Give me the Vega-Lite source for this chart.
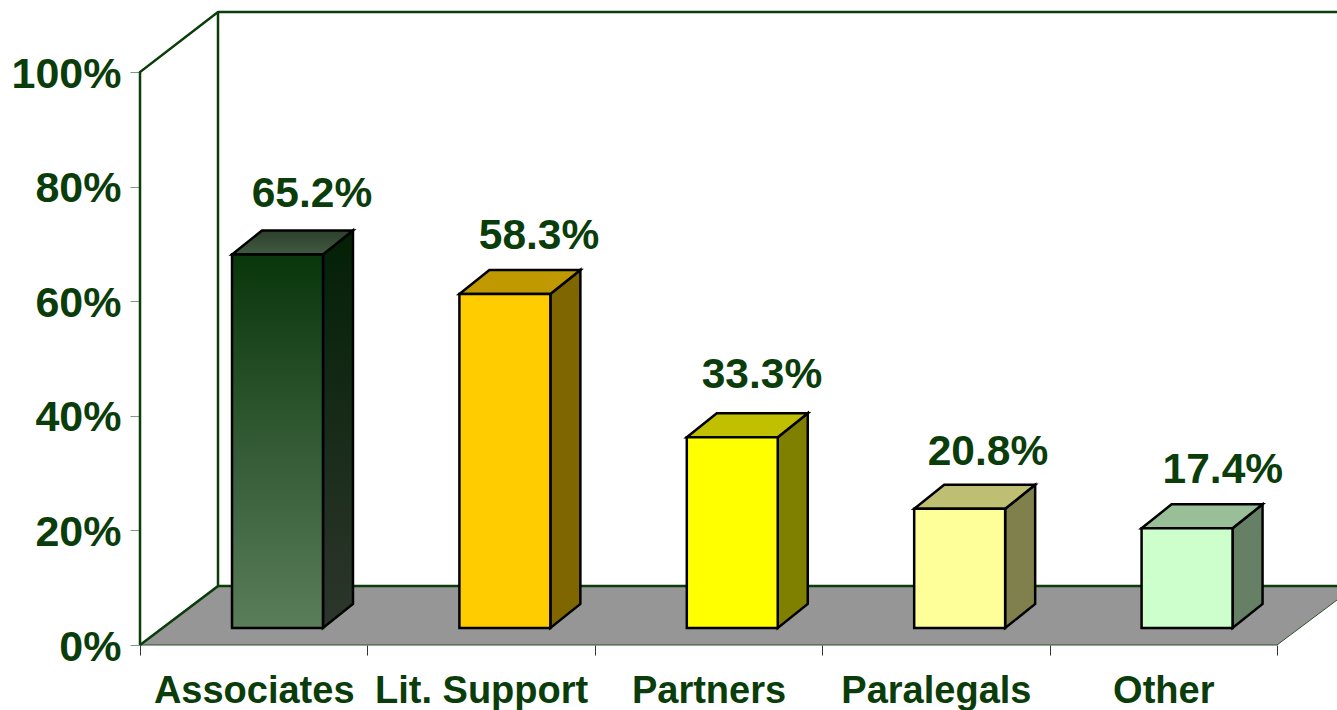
{"$schema":"https://vega.github.io/schema/vega-lite/v6.json","width":1337,"height":710,"autosize":{"type":"none"},"padding":0,"background":"white","config":{"view":{"stroke":null}},
"datasets":{"bars":[{"category":"Associates","value":65.2},{"category":"Lit. Support","value":58.3},{"category":"Partners","value":33.3},{"category":"Paralegals","value":20.8},{"category":"Other","value":17.4}],
"floor":[{"u":0,"a":0,"b":0},{"u":0.343,"a":10.3,"b":0},{"u":5,"a":10.3,"b":0},{"u":5.264,"a":10.3,"b":7.85}],
"frame":[{"s":"wall","k":1,"u":0,"v":0},{"s":"wall","k":2,"u":0,"v":100},{"s":"wall","k":3,"u":0.343,"v":110.47},{"s":"wall","k":4,"u":5.264,"v":110.47},{"s":"back","k":1,"u":0.343,"v":110.47},{"s":"back","k":2,"u":0.343,"v":10.3},{"s":"back","k":3,"u":0,"v":0},{"s":"rear","k":1,"u":0.343,"v":10.3},{"s":"rear","k":2,"u":5.264,"v":10.3}],
"edge":[{"s":"front","k":1,"u":0,"v":0},{"s":"front","k":2,"u":5,"v":0},{"s":"front","k":3,"u":5.264,"v":7.85}]},
"data":{"name":"bars"},
"transform":[{"window":[{"op":"row_number","as":"n"}]},{"calculate":"datum.n-1","as":"i"},{"calculate":"datum.i+0.4046","as":"xf0"},{"calculate":"datum.xf0+0.4","as":"xf1"},{"calculate":"datum.value+2.967","as":"yf"},{"calculate":"datum.yf+4.19","as":"yb"},{"calculate":"datum.xf1+0.132","as":"xs"},{"calculate":"format(datum.value,'.1f')+'%'","as":"label"},{"calculate":"datum.i+[0.7563,0.7546,0.735,0.729,0.762][datum.i]","as":"lx"},{"calculate":"datum.value+[11.3,10.9,11.5,10.7,10.8][datum.i]","as":"ly"}],
"layer":[
{"data":{"name":"floor"},"mark":{"type":"area","fill":"#969696","orient":"vertical"},"encoding":{"x":{"field":"u","type":"quantitative","scale":{"domain":[-0.6157,5.264],"nice":false,"zero":false},"axis":{"values":[0,1,2,3,4,5],"offset":-65,"title":null,"grid":false,"domain":false,"tickSize":10,"tickColor":"#333333","labelExpr":"['Associates','Lit. Support','Partners','Paralegals','Other',''][datum.value]","labelOffset":113.7,"labelPadding":17,"labelLimit":400,"labelFont":"Liberation Sans","labelFontSize":38,"labelFontWeight":"bold","labelColor":"#0b3d0b","labelOverlap":false,"labelFlush":false,"labelBound":false}},"y":{"field":"a","type":"quantitative","scale":{"domain":[-11.34,112.57],"nice":false,"zero":false},"axis":{"values":[0,20,40,60,80,100],"offset":-140,"title":null,"grid":false,"domain":false,"tickSize":10,"tickColor":"#7f9b7f","labelExpr":"datum.value+'%'","labelPadding":9,"labelOffset":2,"labelLimit":300,"labelFont":"Liberation Sans","labelFontSize":43,"labelFontWeight":"bold","labelColor":"#0b3d0b","labelBound":false}},"y2":{"field":"b"}}},
{"data":{"name":"edge"},"mark":{"type":"line","stroke":"#2f4f2f","strokeWidth":1},"encoding":{"x":{"field":"u","type":"quantitative"},"y":{"field":"v","type":"quantitative"},"order":{"field":"k"}}},
{"data":{"name":"frame"},"mark":{"type":"line","stroke":"#0b3d0b","strokeWidth":2.5},"encoding":{"x":{"field":"u","type":"quantitative"},"y":{"field":"v","type":"quantitative"},"detail":{"field":"s"},"order":{"field":"k"}}},
{"transform":[{"filter":"datum.category!='Associates'"},{"fold":["xf1","xs"],"as":["edgeName","sx"]},{"calculate":"datum.edgeName=='xf1'?datum.yf:datum.yb","as":"sTop"},{"calculate":"datum.edgeName=='xf1'?2.967:7.157","as":"sBot"}],"mark":{"type":"area","stroke":"black","strokeWidth":2.5,"strokeJoin":"miter","orient":"vertical"},"encoding":{"x":{"field":"sx","type":"quantitative"},"y":{"field":"sTop","type":"quantitative"},"y2":{"field":"sBot"},"detail":{"field":"category"},"fill":{"field":"category","type":"nominal","legend":null,"scale":{"domain":["Lit. Support","Partners","Paralegals","Other"],"range":["#806600","#808000","#80804d","#668066"]}}}},
{"transform":[{"filter":"datum.category=='Associates'"},{"fold":["xf1","xs"],"as":["edgeName","sx"]},{"calculate":"datum.edgeName=='xf1'?datum.yf:datum.yb","as":"sTop"},{"calculate":"datum.edgeName=='xf1'?2.967:7.157","as":"sBot"}],"mark":{"type":"area","stroke":"black","strokeWidth":2.5,"orient":"vertical","fill":{"gradient":"linear","x1":0,"y1":0,"x2":0,"y2":1,"stops":[{"offset":0,"color":"#032006"},{"offset":1,"color":"#2d362c"}]}},"encoding":{"x":{"field":"sx","type":"quantitative"},"y":{"field":"sTop","type":"quantitative"},"y2":{"field":"sBot"}}},
{"transform":[{"filter":"datum.category!='Associates'"},{"fold":["yf","yb"],"as":["edgeName","ty"]},{"calculate":"datum.edgeName=='yf'?datum.xf0:datum.xf0+0.132","as":"tx0"},{"calculate":"datum.tx0+0.4","as":"tx1"}],"mark":{"type":"area","stroke":"black","strokeWidth":2.5,"orient":"horizontal"},"encoding":{"y":{"field":"ty","type":"quantitative"},"x":{"field":"tx0","type":"quantitative"},"x2":{"field":"tx1"},"detail":{"field":"category"},"fill":{"field":"category","type":"nominal","legend":null,"scale":{"domain":["Lit. Support","Partners","Paralegals","Other"],"range":["#c09900","#c0c000","#bfbf73","#99bf99"]}}}},
{"transform":[{"filter":"datum.category=='Associates'"},{"fold":["yf","yb"],"as":["edgeName","ty"]},{"calculate":"datum.edgeName=='yf'?datum.xf0:datum.xf0+0.132","as":"tx0"},{"calculate":"datum.tx0+0.4","as":"tx1"}],"mark":{"type":"area","stroke":"black","strokeWidth":2.5,"orient":"horizontal","fill":{"gradient":"linear","x1":0,"y1":0,"x2":0,"y2":1,"stops":[{"offset":0,"color":"#2c3f2c"},{"offset":1,"color":"#415a41"}]}},"encoding":{"y":{"field":"ty","type":"quantitative"},"x":{"field":"tx0","type":"quantitative"},"x2":{"field":"tx1"}}},
{"transform":[{"filter":"datum.category!='Associates'"},{"calculate":"2.967","as":"base"}],"mark":{"type":"rect","stroke":"black","strokeWidth":2.5},"encoding":{"x":{"field":"xf0","type":"quantitative"},"x2":{"field":"xf1"},"y":{"field":"yf","type":"quantitative"},"y2":{"field":"base"},"fill":{"field":"category","type":"nominal","legend":null,"scale":{"domain":["Lit. Support","Partners","Paralegals","Other"],"range":["#ffcc00","#ffff00","#ffff99","#ccffcc"]}}}},
{"transform":[{"filter":"datum.category=='Associates'"},{"calculate":"2.967","as":"base"}],"mark":{"type":"rect","stroke":"black","strokeWidth":2.5,"fill":{"gradient":"linear","x1":0,"y1":0,"x2":0,"y2":1,"stops":[{"offset":0,"color":"#0a360c"},{"offset":1,"color":"#5a7d5a"}]}},"encoding":{"x":{"field":"xf0","type":"quantitative"},"x2":{"field":"xf1"},"y":{"field":"yf","type":"quantitative"},"y2":{"field":"base"}}},
{"mark":{"type":"text","font":"Liberation Sans","fontSize":42.5,"fontWeight":"bold","fill":"#0b3d0b","align":"center","baseline":"alphabetic"},"encoding":{"x":{"field":"lx","type":"quantitative"},"y":{"field":"ly","type":"quantitative"},"text":{"field":"label"}}}
],
"resolve":{"scale":{"fill":"independent"}}}
